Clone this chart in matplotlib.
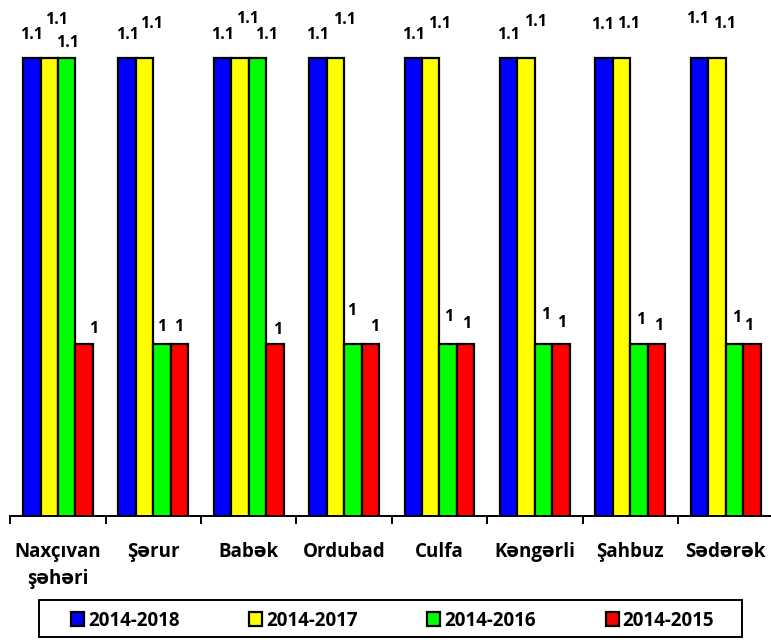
import matplotlib.pyplot as plt
from matplotlib.patches import Rectangle
import numpy as np

plt.rcParams["font.family"] = ["Open Sans", "DejaVu Sans"]

CATEGORIES = ["Naxçıvan\nşəhəri", "Şərur", "Babək", "Ordubad", "Culfa", "Kəngərli", "Şahbuz", "Sədərək"]
SERIES = ["2014-2018", "2014-2017", "2014-2016", "2014-2015"]
VALUES_2018 = [1.1, 1.1, 1.1, 1.1, 1.1, 1.1, 1.1, 1.1]
VALUES_2017 = [1.1, 1.1, 1.1, 1.1, 1.1, 1.1, 1.1, 1.1]
VALUES_2016 = [1.1, 1, 1.1, 1, 1, 1, 1, 1]
VALUES_2015 = [1, 1, 1, 1, 1, 1, 1, 1]
LABELS_2018 = ["1.1"] * 8
LABELS_2017 = ["1.1"] * 8
LABELS_2016 = ["1.1", "1", "1.1", "1", "1", "1", "1", "1"]
LABELS_2015 = ["1"] * 8

COLORS = ["#0000ff", "#ffff00", "#00ff00", "#ff0000"]
BAR_WIDTH = 0.183

# label nudges in pixels (dx, dy above bar top), mimicking the spreadsheet's collision placement
LABEL_NUDGES = [
    [(0, 24), (0, 24), (0, 24), (0, 24), (0, 24), (0, 24), (-2, 34), (-2, 40)],
    [(7, 39), (7, 35), (8, 40), (9, 39), (9, 35), (9, 37), (7, 35), (8, 35)],
    [(1, 16), (0, 18), (9, 24), (-1, 34), (0, 28), (2, 30), (2, 25), (2, 27)],
    [(9, 16), (-1, 18), (3, 15), (4, 18), (1, 21), (1, 22), (2, 19), (-3, 19)],
]


def main():
    fig = plt.figure(figsize=(7.71, 6.4), dpi=100, facecolor="white")
    ax = fig.add_axes([10.3 / 771, 1 - 516 / 640, 763 / 771, 516 / 640])

    values = [VALUES_2018, VALUES_2017, VALUES_2016, VALUES_2015]
    labels = [LABELS_2018, LABELS_2017, LABELS_2016, LABELS_2015]
    x = np.arange(len(CATEGORIES))

    for i, (name, vals, labs, color) in enumerate(zip(SERIES, values, labels, COLORS)):
        pos = x + (i - 1.5) * BAR_WIDTH
        bars = ax.bar(pos, vals, BAR_WIDTH, color=color, edgecolor="black",
                      linewidth=1.6, label=name, zorder=2)
        for j, (bar, lab) in enumerate(zip(bars, labs)):
            dx, dy = LABEL_NUDGES[i][j]
            ax.annotate(lab, (bar.get_x() + bar.get_width() / 2, bar.get_height()),
                        xytext=(dx, dy - 1), textcoords="offset pixels",
                        ha="center", va="center", fontsize=11.5, fontweight="bold",
                        color="black")

    ax.set_ylim(0.94, 1.1203)
    ax.set_xlim(-0.5, len(CATEGORIES) - 0.5)

    for side in ["top", "right", "left"]:
        ax.spines[side].set_visible(False)
    ax.spines["bottom"].set_color("black")
    ax.spines["bottom"].set_linewidth(1.4)
    ax.set_yticks([])

    ax.set_xticks(x)
    ax.set_xticklabels(CATEGORIES, fontsize=13.5, fontweight="bold", linespacing=1.45)
    ax.tick_params(axis="x", which="major", length=0, pad=19)
    ax.set_xticks(np.arange(len(CATEGORIES) + 1) - 0.5, minor=True)
    ax.tick_params(axis="x", which="minor", length=6, width=1.4, color="black", direction="out")

    # legend entries spread over the inner span, frame drawn as its own box
    fig.legend(loc="center", bbox_to_anchor=(71 / 771, 19.5 / 640, 643 / 771, 0),
               ncol=4, mode="expand", frameon=False,
               prop={"weight": "bold", "size": 13.5},
               handlelength=0.7, handleheight=0.7, handletextpad=0.2,
               borderaxespad=0, borderpad=0)
    fig.patches.append(Rectangle((39 / 771, 3 / 640), 703 / 771, 37 / 640,
                                 transform=fig.transFigure, fill=False,
                                 edgecolor="black", linewidth=1.4))

    fig.savefig("out.png", dpi=100, facecolor="white")
    plt.close(fig)


if __name__ == "__main__":
    main()
